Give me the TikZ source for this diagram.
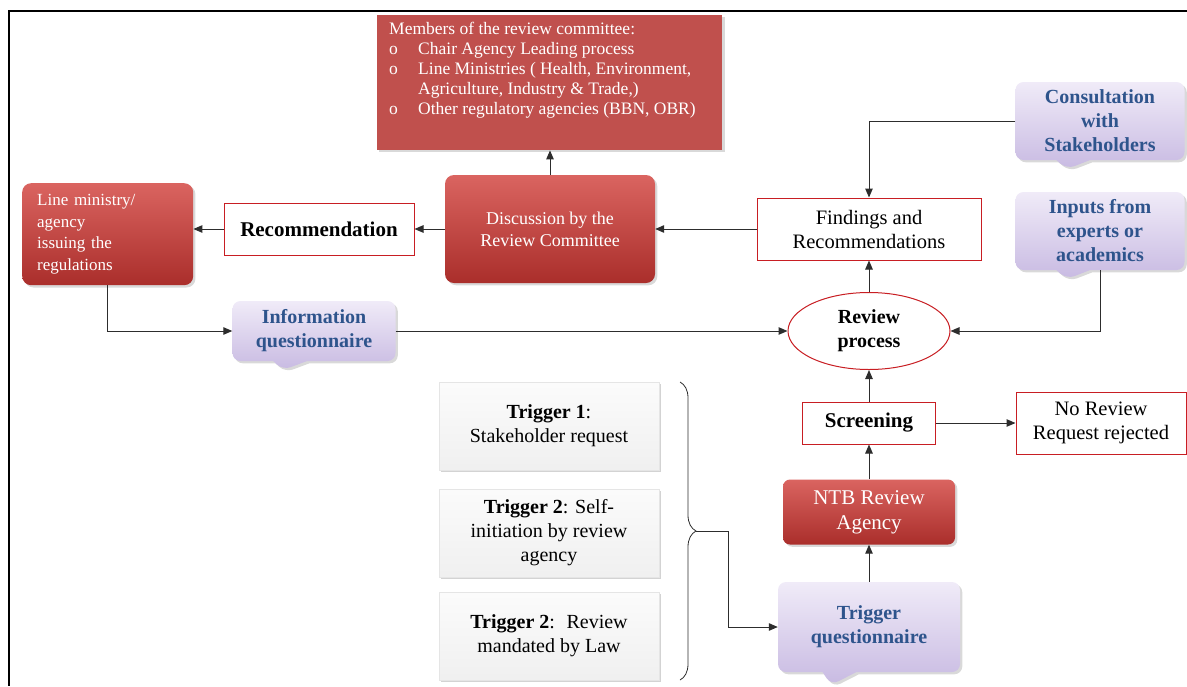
\documentclass[tikz,border=0pt]{standalone}
\usepackage{fontspec}
\setmainfont{Liberation Serif}
\usetikzlibrary{arrows.meta,shapes.geometric,shapes.callouts,shadows,decorations.pathreplacing}
\definecolor{boxred}{RGB}{192,80,77}
\definecolor{darkred}{RGB}{170,46,43}
\definecolor{lightred}{RGB}{218,100,96}
\definecolor{edgered}{RGB}{200,30,35}
\definecolor{lilac}{RGB}{240,235,248}
\definecolor{lilacdark}{RGB}{200,186,226}
\definecolor{callblue}{RGB}{46,84,140}
\definecolor{linegray}{RGB}{45,45,45}

\tikzset{
  redbox/.style={rounded corners=9pt, top color=lightred, bottom color=darkred,
    text=white, drop shadow={opacity=.3}},
  outbox/.style={draw=edgered, line width=1pt, fill=white, align=center,
    font=\fontsize{20.5}{24}\selectfont},
  callbox/.style={rectangle callout, rounded corners=8pt, callout pointer width=34pt,
    top color=lilac, bottom color=lilacdark, text=callblue, align=center,
    drop shadow={opacity=.3}, font=\bfseries\fontsize{20}{24}\selectfont},
  trigbox/.style={top color=gray!3, bottom color=gray!12, draw=gray!20,
    minimum width=220, minimum height=88, align=center, drop shadow={opacity=.35},
    font=\fontsize{20}{24}\selectfont},
  conn/.style={draw=linegray, line width=1pt, -{Triangle[length=9pt,width=7.5pt]}},
  bracedeco/.style={draw=linegray, line width=.8pt, decorate,
    decoration={brace, amplitude=16pt}}
}

\begin{document}
\begin{tikzpicture}[x=1pt,y=-1pt]
\useasboundingbox (0,0) rectangle (1187,686);
% frame
\draw[line width=1.6pt] (1187,11) -- (9,11) -- (9,686);

% top row
\node[anchor=north west, fill=boxred, text=white, minimum width=345, minimum height=135,
      inner xsep=12pt, inner ysep=6pt, drop shadow={opacity=.3}] (members) at (377,15)
  {\begin{minipage}[c][121pt][t]{321pt}\raggedright\fontsize{17.5}{20}\selectfont
   Members of the review committee:\\
   \makebox[29pt][l]{o}Chair Agency Leading process\\
   \makebox[29pt][l]{o}Line Ministries ( Health, Environment,\\
   \hspace*{29pt}Agriculture, Industry \& Trade,)\\
   \makebox[29pt][l]{o}Other regulatory agencies (BBN, OBR)
   \end{minipage}};
\node[redbox, anchor=north west, minimum width=171, minimum height=102, inner xsep=15pt,
      text width=141, align=left, font=\fontsize{17}{21.5}\selectfont] (linemin) at (22,183)
  {Line ministry/\\agency\\issuing the\\regulations};
\node[outbox, minimum width=190, minimum height=52, font=\bfseries\fontsize{21}{24}\selectfont]
  (recom) at (319,229) {Recommendation};
\node[redbox, minimum width=210, minimum height=108, align=center,
      font=\fontsize{18}{22}\selectfont] (disc) at (550,229)
  {Discussion by the\\Review Committee};
\node[outbox, minimum width=224, minimum height=62] (find) at (869,229)
  {Findings and\\Recommendations};

% stakeholder inputs
\node[callbox, minimum width=169, minimum height=78,
      callout absolute pointer={(1067,169)}] (consult) at (1100,121)
  {Consultation\\with\\Stakeholders};
\node[callbox, minimum width=169, minimum height=78,
      callout absolute pointer={(1067,279)}] (inputs) at (1100,231)
  {Inputs from\\experts or\\academics};
\node[callbox, minimum width=163, minimum height=60,
      callout absolute pointer={(283,370)}] (infoq) at (314,331)
  {Information\\questionnaire};

% review chain
\node[ellipse, draw=edgered, line width=1pt, fill=white, minimum width=162,
      minimum height=77, align=center, font=\bfseries\fontsize{20}{24}\selectfont]
  (rev) at (869,331) {Review\\process};
\node[outbox, minimum width=133, minimum height=42, font=\bfseries\fontsize{21}{24}\selectfont]
  (screen) at (869,423) {Screening};
\node[outbox, minimum width=170, minimum height=62] (norev) at (1101,423)
  {No Review\\Request rejected};
\node[redbox, rounded corners=7pt, minimum width=172, minimum height=65, align=center,
      font=\fontsize{21}{25}\selectfont] (ntb) at (869,512) {NTB Review\\Agency};
\node[callbox, minimum width=182, minimum height=90,
      callout absolute pointer={(831,685)}] (trigq) at (869,627)
  {Trigger\\questionnaire};

% triggers
\node[trigbox] (trig1) at (549,426) {\textbf{Trigger 1}:\\Stakeholder request};
\node[trigbox] (trig2) at (549,533) {\textbf{Trigger 2}: Self-\\initiation by review\\agency};
\node[trigbox] (trig3) at (549,636) {\textbf{Trigger 2}:~ Review\\mandated by Law};
\coordinate (brtop) at (680,382);
\coordinate (brbot) at (680,680);
\coordinate (tip) at (696,531);
\coordinate (bend) at (728,531);
\draw[bracedeco] (brtop) -- (brbot);

% connectors
\draw[conn] (disc.north) -- (disc.north |- members.south);
\draw[conn] (disc.west) -- (recom.east);
\draw[conn] (recom.west) -- (recom.west -| linemin.east);
\draw[conn] (find.west) -- (disc.east);
\draw[conn] (linemin.south) |- (infoq.west);
\draw[conn] (infoq.east) -- (rev.west);
\draw[conn] (rev.north) -- (find.south);
\draw[conn] (consult.west) -| (find.north);
\draw[conn] (inputs.south) |- (rev.east);
\draw[conn] (screen.north) -- (rev.south);
\draw[conn] (screen.east) -- (norev.west);
\draw[conn] (ntb.north) -- (screen.south);
\draw[conn] (trigq.north) -- (ntb.south);
\draw[linegray, line width=1pt] (tip) -- (bend);
\draw[conn] (bend) |- (trigq.west);
\end{tikzpicture}
\end{document}
